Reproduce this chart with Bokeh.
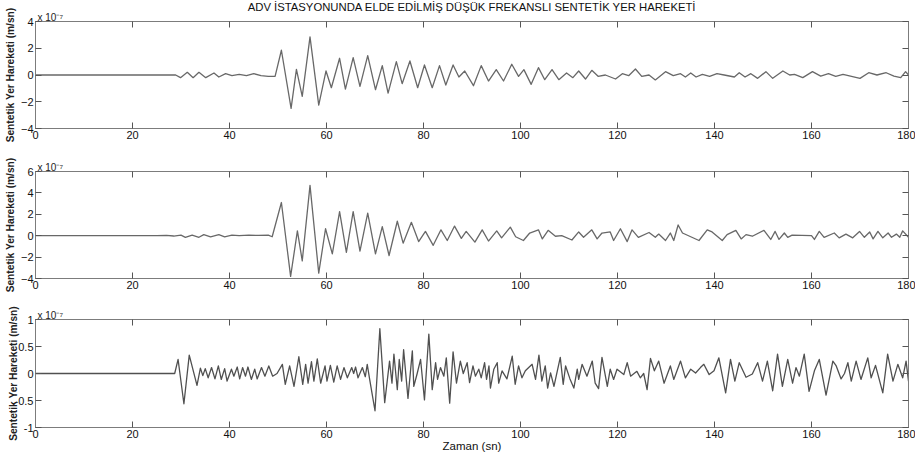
import math
from bokeh.plotting import figure
from bokeh.layouts import column
from bokeh.models import Range1d, LinearAxis, FixedTicker, Title
from bokeh.embed import file_html
from bokeh.resources import INLINE

TITLE = "ADV İSTASYONUNDA ELDE EDİLMİŞ DÜŞÜK FREKANSLI SENTETİK YER HAREKETİ"
Y_LABEL = "Sentetik Yer Hareketi (m/sn)"
X_LABEL = "Zaman (sn)"
MULT = "x 10⁻⁷"

x_ticks = [0, 20, 40, 60, 80, 100, 120, 140, 160, 180]
y_ticks_1 = [-4, -2, 0, 2, 4]
y_ticks_2 = [-4, -2, 0, 2, 4, 6]
y_ticks_3 = [-1, -0.5, 0, 0.5, 1]

# (time s, amplitude x1e-7 m/sn)
trace_1 = [
    (0, 0), (28.9, 0), (29.9, -0.2), (31.3, 0.2), (32.5, -0.2), (33.7, 0.2), (35.1, -0.2),
    (36.8, 0.15), (37.8, -0.15), (39.2, 0.1), (40.5, -0.05), (42.0, 0.05), (43.5, -0.05),
    (45.0, 0.1), (46.5, -0.05), (48.0, -0.1), (49.4, -0.1), (50.7, 1.85), (52.7, -2.5),
    (53.8, 0.42), (55.0, -1.6), (56.6, 2.85), (58.4, -2.25), (59.9, 0.3), (61.0, -0.95),
    (62.7, 1.25), (63.9, -1.05), (65.5, 1.3), (66.9, -0.85), (68.5, 1.45), (70.1, -1.1),
    (71.5, 0.7), (72.7, -1.35), (74.4, 1.0), (75.6, -0.65), (77.2, 1.05), (78.8, -0.95),
    (80.2, 0.75), (81.8, -0.95), (83.3, 0.7), (84.6, -0.75), (86.1, 0.75), (87.3, -0.15),
    (88.5, 0.3), (90.3, -0.8), (91.9, 0.7), (93.4, -0.45), (95.0, 0.4), (96.5, -0.45),
    (98.2, 0.8), (99.6, -0.1), (100.7, 0.4), (102.2, -0.7), (103.7, 0.55), (105.0, -0.35),
    (106.5, 0.4), (107.9, -0.35), (109.5, 0.15), (110.8, -0.2), (112.0, 0.3), (113.4, -0.3),
    (114.7, 0.35), (116.0, -0.1), (117.5, 0.0), (119.6, -0.3), (121.0, 0.1), (122.3, -0.05),
    (123.7, 0.45), (125.0, -0.1), (126.5, 0.0), (127.8, -0.37), (129.9, 0.25), (131.5, -0.05),
    (133.0, 0.1), (134.0, -0.15), (135.1, 0.15), (136.2, -0.15), (137.5, 0.05), (139.0, -0.1),
    (140.5, 0.1), (142.0, 0.0), (144.1, -0.15), (145.1, 0.17), (146.3, -0.15), (147.5, 0.1),
    (148.9, -0.25), (150.6, 0.25), (152.0, -0.25), (154.1, 0.3), (155.5, 0.0), (156.5, 0.05),
    (158.2, -0.2), (160.2, 0.25), (161.9, -0.08), (163.5, 0.1), (165.0, -0.1), (166.5, 0.05),
    (170.0, -0.25), (171.8, 0.17), (173.5, 0.0), (175.4, 0.17), (177.0, -0.08), (178.4, -0.2),
    (179.4, 0.25), (180, 0.0),
]

trace_2 = [
    (0, 0), (25, 0), (27, 0.03), (28.5, -0.03), (30, 0.05), (30.9, -0.15), (32.3, 0.05),
    (33.7, -0.15), (34.7, 0.1), (36.1, -0.1), (37.8, 0.1), (39, -0.1), (40.5, 0.05), (42, 0.0),
    (44, 0.05), (46, 0.03), (48, 0.05), (48.8, -0.1), (50.7, 3.1), (52.6, -3.8), (54.0, 0.45),
    (55.0, -2.35), (56.6, 4.7), (58.4, -3.5), (59.8, 0.65), (61.2, -1.7), (62.7, 2.25),
    (64.1, -1.55), (65.5, 2.25), (66.9, -1.45), (68.5, 2.1), (70.1, -1.7), (71.5, 0.85),
    (72.9, -1.85), (74.6, 1.35), (75.8, -0.7), (77.5, 1.25), (79.0, -0.55), (80.4, 0.4),
    (82.0, -0.9), (83.6, 0.55), (84.9, -0.45), (86.4, 0.9), (87.8, -0.25), (88.8, 0.4),
    (90.6, -0.6), (92.1, 0.55), (93.4, -0.5), (95.1, 0.45), (96.1, -0.2), (97.9, 0.8),
    (99.0, -0.1), (100.6, -0.45), (101.9, 0.25), (103.7, 0.55), (104.5, -0.3), (105.7, 0.5),
    (107.2, -0.05), (108.5, 0.0), (110.6, -0.4), (112.0, 0.35), (113.0, -0.15), (114.7, 0.55),
    (115.8, -0.3), (116.8, 0.25), (118.5, 0.35), (119.2, -0.45), (120.6, 0.65), (122.0, -0.55),
    (123.0, 0.55), (124.3, -0.15), (126.5, 0.3), (127.8, -0.15), (128.5, 0.15), (129.9, -0.45),
    (130.9, 0.25), (131.6, -0.45), (132.5, 1.0), (133.4, 0.25), (136.8, -0.45), (138.5, 0.55),
    (139.5, 0.35), (141.6, -0.45), (142.6, 0.1), (144.4, 0.5), (145.5, -0.3), (146.5, 0.1),
    (147.8, -0.05), (150.2, 0.5), (151.6, -0.35), (152.5, 0.4), (153.3, -0.35), (154.4, 0.25),
    (155.1, -0.15), (156, 0.05), (160, 0.0), (160.6, -0.35), (161.6, 0.4), (162.6, -0.15),
    (164.7, 0.25), (165.7, -0.2), (167.1, 0.15), (168.5, -0.2), (169.9, 0.4), (170.9, -0.15),
    (172, 0.35), (172.7, -0.3), (173.7, 0.4), (174.7, -0.2), (175.8, 0.25), (176.5, -0.15),
    (177.5, 0.15), (178.2, -0.15), (178.8, 0.45), (180, -0.15),
]

trace_3 = [
    (0, 0), (28.7, 0), (29.4, 0.26), (30.6, -0.56), (31.7, 0.34), (33.3, -0.22), (34.0, 0.1),
    (34.5, -0.04), (35.0, 0.09), (35.6, -0.08), (36.3, 0.11), (37.0, -0.10), (37.7, 0.14),
    (38.3, -0.11), (39.0, 0.09), (39.5, -0.14), (40.4, 0.08), (40.9, -0.05), (41.6, 0.12),
    (42.1, -0.10), (42.7, 0.11), (43.3, -0.05), (43.8, 0.12), (44.5, -0.11), (45.2, 0.08),
    (45.7, -0.10), (46.6, 0.11), (47.3, -0.05), (48.1, 0.14), (48.9, -0.05), (49.8, 0.0),
    (50.9, 0.17), (51.5, -0.2), (52.4, 0.14), (53.3, -0.24), (54.3, 0.31), (55.1, -0.2),
    (55.7, 0.17), (56.2, -0.18), (56.9, 0.22), (57.4, -0.14), (58.1, 0.27), (58.8, -0.18),
    (59.7, 0.14), (60.1, -0.14), (60.8, 0.15), (61.5, -0.16), (62.2, 0.14), (62.9, -0.11),
    (63.6, 0.11), (64.3, -0.08), (65.2, 0.11), (65.6, 0.0), (66.0, 0.12), (66.5, -0.08),
    (67.4, 0.11), (68.0, -0.06), (68.4, 0.17), (68.9, -0.11), (70.0, -0.69), (71.0, 0.83),
    (72.0, -0.54), (73.0, 0.23), (73.5, -0.18), (73.9, 0.36), (74.6, -0.3), (75.0, 0.26),
    (75.5, -0.14), (75.9, 0.44), (76.8, -0.46), (77.7, 0.42), (78.0, -0.24), (78.7, 0.0),
    (79.4, 0.26), (80.2, -0.49), (81.1, 0.73), (81.8, -0.3), (82.5, 0.2), (82.9, -0.11),
    (83.5, 0.11), (84.2, -0.05), (84.7, 0.29), (85.4, -0.55), (86.1, 0.4), (86.8, -0.18),
    (87.6, 0.23), (88.2, 0.0), (89.0, 0.2), (89.5, -0.17), (90.2, 0.14), (90.7, -0.05),
    (91.4, 0.08), (91.9, -0.08), (92.6, 0.2), (93.0, -0.11), (93.5, 0.14), (93.8, -0.27),
    (94.5, 0.08), (95.2, 0.2), (95.5, -0.18), (96.2, 0.05), (97.2, -0.1), (98.3, 0.32),
    (98.9, -0.2), (99.6, 0.14), (100.3, -0.08), (101.0, 0.05), (102.4, 0.17), (103.1, -0.11),
    (103.8, 0.34), (104.4, -0.14), (105.1, 0.14), (105.6, -0.27), (106.2, 0.01), (106.9, -0.24),
    (108.2, 0.3), (108.8, -0.2), (109.3, 0.14), (110.2, -0.1), (111.0, -0.27), (111.7, 0.08),
    (112.0, -0.11), (112.7, 0.17), (113.7, -0.05), (114.8, 0.23), (115.4, -0.18), (116.1, -0.28),
    (116.8, 0.3), (117.9, -0.24), (118.5, 0.08), (119.2, -0.11), (119.9, 0.08), (121.3, -0.02),
    (122.0, 0.2), (122.7, -0.05), (124.0, 0.04), (124.7, -0.08), (125.4, 0.0), (126.1, -0.3),
    (126.8, 0.28), (127.6, 0.05), (128.5, 0.23), (129.6, -0.18), (130.9, 0.14), (131.6, -0.11),
    (133.0, 0.23), (134.0, -0.08), (135.1, 0.08), (136.1, 0.01), (137.1, 0.11), (137.8, 0.17),
    (138.9, -0.02), (139.9, 0.05), (140.9, 0.29), (142.3, -0.36), (143.3, 0.26), (144.2, -0.14),
    (145.1, 0.2), (146.5, -0.07), (147.8, -0.01), (148.9, 0.2), (149.9, -0.14), (150.9, 0.23),
    (152.0, -0.32), (153.0, 0.36), (154.0, -0.24), (155.1, 0.26), (156.1, -0.18), (156.8, 0.11),
    (157.5, -0.05), (158.5, 0.36), (159.5, -0.33), (160.6, 0.05), (161.6, 0.26), (163.0, -0.4),
    (164.4, 0.23), (165.1, 0.14), (166.1, -0.1), (166.8, 0.0), (167.5, 0.2), (168.2, -0.14),
    (169.2, 0.23), (170.2, -0.11), (171.6, 0.29), (172.3, -0.08), (173.2, 0.15), (174.7, -0.36),
    (175.7, 0.36), (176.8, -0.14), (177.8, 0.17), (178.8, -0.08), (179.5, 0.23), (180.0, -0.14),
]

FONT = "Liberation Sans"
FRAME = "#7c7c7c"
TXT = "#111111"


def make_panel(trace, yr, yticks, height, top, bottom, line_color, ylab_standoff,
               title=None, xlabel=None, overrides=None):
    p = figure(width=915, height=height, output_backend="svg", toolbar_location=None,
               x_range=Range1d(0, 180), y_range=Range1d(*yr),
               min_border_left=35, min_border_right=7, min_border_top=top, min_border_bottom=bottom,
               x_axis_type=None, y_axis_type=None)
    p.outline_line_color = FRAME
    p.outline_line_width = 1
    p.xgrid.visible = False
    p.ygrid.visible = False
    p.background_fill_color = "white"
    p.border_fill_color = "white"

    def style(ax, show):
        ax.major_tick_in = 6
        ax.major_tick_out = 0
        ax.minor_tick_line_color = None
        ax.axis_line_color = FRAME
        ax.major_tick_line_color = "#555555"
        ax.major_label_text_font = FONT
        ax.major_label_text_color = TXT
        if show:
            ax.major_label_text_font_size = "11px"
            ax.major_label_standoff = 2
        else:
            ax.major_label_text_alpha = 0
            ax.major_label_text_font_size = "1px"
            ax.major_label_standoff = 0

    bx = LinearAxis(ticker=FixedTicker(ticks=x_ticks))
    style(bx, True)
    if xlabel:
        bx.axis_label = xlabel
        bx.axis_label_text_font = FONT
        bx.axis_label_text_font_size = "11.5px"
        bx.axis_label_text_font_style = "normal"
        bx.axis_label_text_color = TXT
        bx.axis_label_standoff = -1
    p.add_layout(bx, "below")
    tx = LinearAxis(ticker=FixedTicker(ticks=x_ticks))
    style(tx, False)
    p.add_layout(tx, "above")

    ly = LinearAxis(ticker=FixedTicker(ticks=yticks))
    style(ly, True)
    ly.axis_label = Y_LABEL
    ly.axis_label_text_font = FONT
    ly.axis_label_text_font_size = "10.2px"
    ly.axis_label_text_font_style = "bold"
    ly.axis_label_text_color = "#222222"
    ly.axis_label_standoff = ylab_standoff
    if overrides:
        ly.major_label_overrides = overrides
    p.add_layout(ly, "left")
    ry = LinearAxis(ticker=FixedTicker(ticks=yticks))
    style(ry, False)
    p.add_layout(ry, "right")

    t = [a for a, _ in trace]
    v = [b for _, b in trace]
    p.line(t, v, line_color=line_color, line_width=1.3, line_join="round")

    p.add_layout(Title(text=MULT, align="left", text_font=FONT, text_font_size="10px",
                       text_font_style="normal", text_color="#222222", standoff=-2,
                       offset=2), "above")
    if title:
        p.add_layout(Title(text=title, align="center", text_font=FONT, text_font_size="11.3px",
                           text_font_style="normal", text_color=TXT, standoff=-5), "above")
    return p


p1 = make_panel(trace_1, (-4, 4), y_ticks_1, 150, 21, 22, "#686868", 2, title=TITLE)
p2 = make_panel(trace_2, (-4, 6), y_ticks_2, 150, 21, 22, "#686868", 2)
p3 = make_panel(trace_3, (-1, 1), y_ticks_3, 154, 19, 27, "#505050", -7, xlabel=X_LABEL,
                overrides={-1: "-1", -0.5: "-0.5", 0: "0", 0.5: "0.5", 1: "1"})

layout = column(p1, p2, p3, spacing=0)
open("out.html", "w").write(file_html(layout, INLINE))
